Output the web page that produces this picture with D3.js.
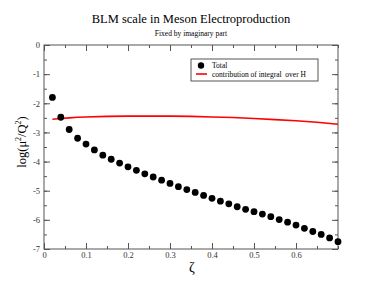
<!DOCTYPE html>
<html lang="en">
<head>
    <meta charset="UTF-8">
    <title>BLM scale in Meson Electroproduction</title>
    <script src="https://d3js.org/d3.v7.min.js"></script>
    <style>
        body { margin: 0; background: white; }
        svg { background-color: white; font-family: "Liberation Serif", "DejaVu Serif", serif; }
    </style>
</head>
<body>
    <script>
        // Total (dots)
        const zetaTotal = [0.02, 0.04, 0.06, 0.08, 0.10, 0.12, 0.14, 0.16, 0.18, 0.20,
                           0.22, 0.24, 0.26, 0.28, 0.30, 0.32, 0.34, 0.36, 0.38, 0.40,
                           0.42, 0.44, 0.46, 0.48, 0.50, 0.52, 0.54, 0.56, 0.58, 0.60,
                           0.62, 0.64, 0.66, 0.68, 0.70];
        const logTotal = [-1.80, -2.48, -2.90, -3.20, -3.40, -3.60, -3.78, -3.92, -4.05, -4.18,
                          -4.30, -4.42, -4.53, -4.64, -4.75, -4.86, -4.96, -5.06, -5.16, -5.26,
                          -5.36, -5.45, -5.55, -5.64, -5.72, -5.80, -5.89, -5.99, -6.08, -6.18,
                          -6.29, -6.40, -6.50, -6.62, -6.75];

        // contribution of integral over H (red line)
        const zetaInt = [0.02, 0.04, 0.06, 0.08, 0.10, 0.15, 0.20, 0.25, 0.30, 0.35,
                         0.40, 0.45, 0.50, 0.55, 0.60, 0.65, 0.70];
        const logInt = [-2.55, -2.52, -2.50, -2.48, -2.47, -2.45, -2.44, -2.44, -2.44, -2.45,
                        -2.47, -2.49, -2.52, -2.56, -2.60, -2.65, -2.72];

        const xTicks = [0, 0.1, 0.2, 0.3, 0.4, 0.5, 0.6];
        const yTicks = [0, -1, -2, -3, -4, -5, -6, -7];

        const width = 381;
        const height = 294;
        const margin = {top: 45, right: 43, bottom: 45, left: 44};
        const serif = '"Liberation Serif", "Times New Roman", serif';

        const svg = d3.select('body')
                      .append('svg')
                      .attr('width', width)
                      .attr('height', height);

        const xScale = d3.scaleLinear()
                         .domain([0, 0.7])
                         .range([margin.left, width - margin.right]);

        const yScale = d3.scaleLinear()
                         .domain([-7, 0])
                         .range([height - margin.bottom, margin.top]);

        const frameColor = '#555';

        // inward ticks on all four sides, majors + minors
        const xMinor = d3.range(0, 0.701, 0.05);
        const yMinor = d3.range(-7, 0.001, 0.5);

        function styleAxis(g) {
            g.attr('font-family', serif).attr('font-size', 8.5);
            g.selectAll('.domain').remove();
            g.selectAll('.tick line').attr('stroke', frameColor);
            g.selectAll('.tick text').attr('fill', '#333').style('font-family', serif);
        }

        const bottomAxis = svg.append('g')
            .attr('transform', `translate(0,${height - margin.bottom})`);
        bottomAxis.call(d3.axisBottom(xScale).tickValues(xMinor).tickSize(-3).tickFormat(''))
              .call(styleAxis);
        bottomAxis.append('g')
              .call(d3.axisBottom(xScale).tickValues(xTicks).tickSize(-6).tickPadding(3).tickFormat(d => d === 0 ? '0' : d3.format('.1f')(d)))
              .call(styleAxis);

        const topAxis = svg.append('g').attr('transform', `translate(0,${margin.top})`);
        topAxis.call(d3.axisTop(xScale).tickValues(xMinor).tickSize(-3).tickFormat(''))
           .call(styleAxis);
        topAxis.append('g').call(d3.axisTop(xScale).tickValues(xTicks).tickSize(-6).tickFormat(''))
           .call(styleAxis);

        const leftAxis = svg.append('g').attr('transform', `translate(${margin.left},0)`);
        leftAxis.call(d3.axisLeft(yScale).tickValues(yMinor).tickSize(-3).tickFormat(''))
            .call(styleAxis);
        leftAxis.append('g')
            .call(d3.axisLeft(yScale).tickValues(yTicks).tickSize(-6).tickPadding(4).tickFormat(d => d === 0 ? '0' : '-' + Math.abs(d)))
            .call(styleAxis);

        const rightAxis = svg.append('g').attr('transform', `translate(${width - margin.right},0)`);
        rightAxis.call(d3.axisRight(yScale).tickValues(yMinor).tickSize(-3).tickFormat(''))
             .call(styleAxis);
        rightAxis.append('g').call(d3.axisRight(yScale).tickValues(yTicks).tickSize(-6).tickFormat(''))
             .call(styleAxis);

        // frame
        svg.append('rect')
           .attr('x', margin.left)
           .attr('y', margin.top)
           .attr('width', width - margin.left - margin.right)
           .attr('height', height - margin.top - margin.bottom)
           .attr('fill', 'none')
           .attr('stroke', frameColor)
           .attr('stroke-width', 1);

        // red line
        const line = d3.line()
                       .x((d, i) => xScale(zetaInt[i]))
                       .y(d => yScale(d));
        svg.append('path')
           .datum(logInt)
           .attr('d', line)
           .attr('fill', 'none')
           .attr('stroke', '#ff0000')
           .attr('stroke-width', 1.6);

        // dots
        svg.selectAll('circle.total')
           .data(logTotal)
           .join('circle')
           .attr('class', 'total')
           .attr('cx', (d, i) => xScale(zetaTotal[i]))
           .attr('cy', d => yScale(d))
           .attr('r', 3.4)
           .attr('fill', 'black');

        // titles
        svg.append('text')
           .attr('x', 191).attr('y', 23)
           .attr('text-anchor', 'middle')
           .style('font-size', '12.5px')
           .text('BLM scale in Meson Electroproduction');
        svg.append('text')
           .attr('x', 191).attr('y', 36)
           .attr('text-anchor', 'middle')
           .style('font-size', '7.5px')
           .text('Fixed by imaginary part');

        // axis labels
        svg.append('text')
           .attr('x', 192).attr('y', 272)
           .attr('text-anchor', 'middle')
           .style('font-size', '14px')
           .text('ζ');

        const ylab = svg.append('text')
           .attr('transform', 'translate(26,142) rotate(-90)')
           .attr('text-anchor', 'middle')
           .style('font-size', '12.5px');
        ylab.append('tspan').text('log(μ');
        ylab.append('tspan').attr('dy', -5).style('font-size', '8px').text('2');
        ylab.append('tspan').attr('dy', 5).text('/Q');
        ylab.append('tspan').attr('dy', -5).style('font-size', '8px').text('2');
        ylab.append('tspan').attr('dy', 5).text(')');

        // legend
        const legend = svg.append('g').attr('transform', 'translate(191,59)');
        legend.append('rect')
              .attr('width', 127).attr('height', 22)
              .attr('fill', 'white')
              .attr('stroke', frameColor)
              .attr('stroke-width', 1);
        legend.append('circle')
              .attr('cx', 10).attr('cy', 6.5).attr('r', 3.2).attr('fill', 'black');
        legend.append('text')
              .attr('x', 21).attr('y', 9)
              .style('font-size', '7.5px')
              .text('Total');
        legend.append('line')
              .attr('x1', 5).attr('x2', 16).attr('y1', 15).attr('y2', 15)
              .attr('stroke', '#ff0000').attr('stroke-width', 1.6);
        legend.append('text')
              .attr('x', 21).attr('y', 18)
              .style('font-size', '7.5px')
              .style('white-space', 'pre')
              .text('contribution of integral  over H');
    </script>
</body>
</html>
